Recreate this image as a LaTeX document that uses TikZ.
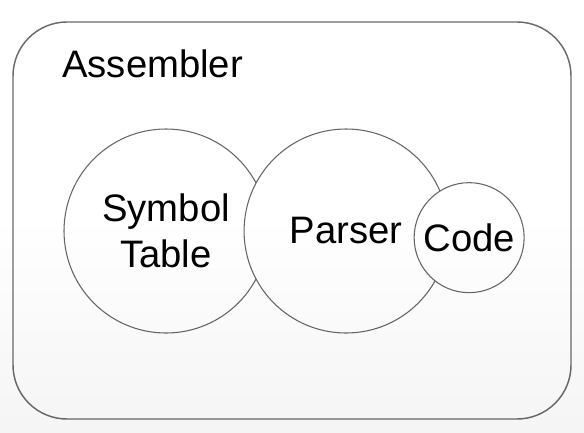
\documentclass[tikz,border=0pt]{standalone}
\usepackage{fontspec}
\setmainfont{Liberation Sans}
\usepackage{tikz}
\usetikzlibrary{positioning}
\pgfdeclareverticalshading{lightfade}{100bp}{color(0bp)=(black!6); color(25bp)=(black!4); color(50bp)=(white); color(100bp)=(white)}

\begin{document}
\begin{tikzpicture}[x=0.75pt,y=-0.75pt,
		part/.style={shape=circle,draw=black!60,line width=0.8pt,fill=white,inner sep=0pt,align=center,font=\fontsize{28.7}{34.5}\selectfont}]
		\useasboundingbox (0,0) rectangle (584,432);
		\begin{scope}
			\draw[draw=black!58,line width=1.1pt,rounded corners=40.5pt] (13,22) rectangle (571,419);
			\node(asm) [anchor=base west,inner sep=0pt,font=\fontsize{28.7}{34.5}\selectfont] at (62,77) {Assembler};
			\node(sym) [part,minimum size=153pt] at (166,231) {Symbol\\Table};
			\node(parser) [part,minimum size=153pt,right=-18.75pt of sym] {Parser};
			\node(code) [part,minimum size=82.5pt,right=-26.25pt of parser,yshift=-5pt] {Code};
		\end{scope}
		\begin{scope}[blend mode=multiply]
			\shade[shading=lightfade] (0,0) rectangle (584,432);
		\end{scope}
	\end{tikzpicture}
\end{document}
